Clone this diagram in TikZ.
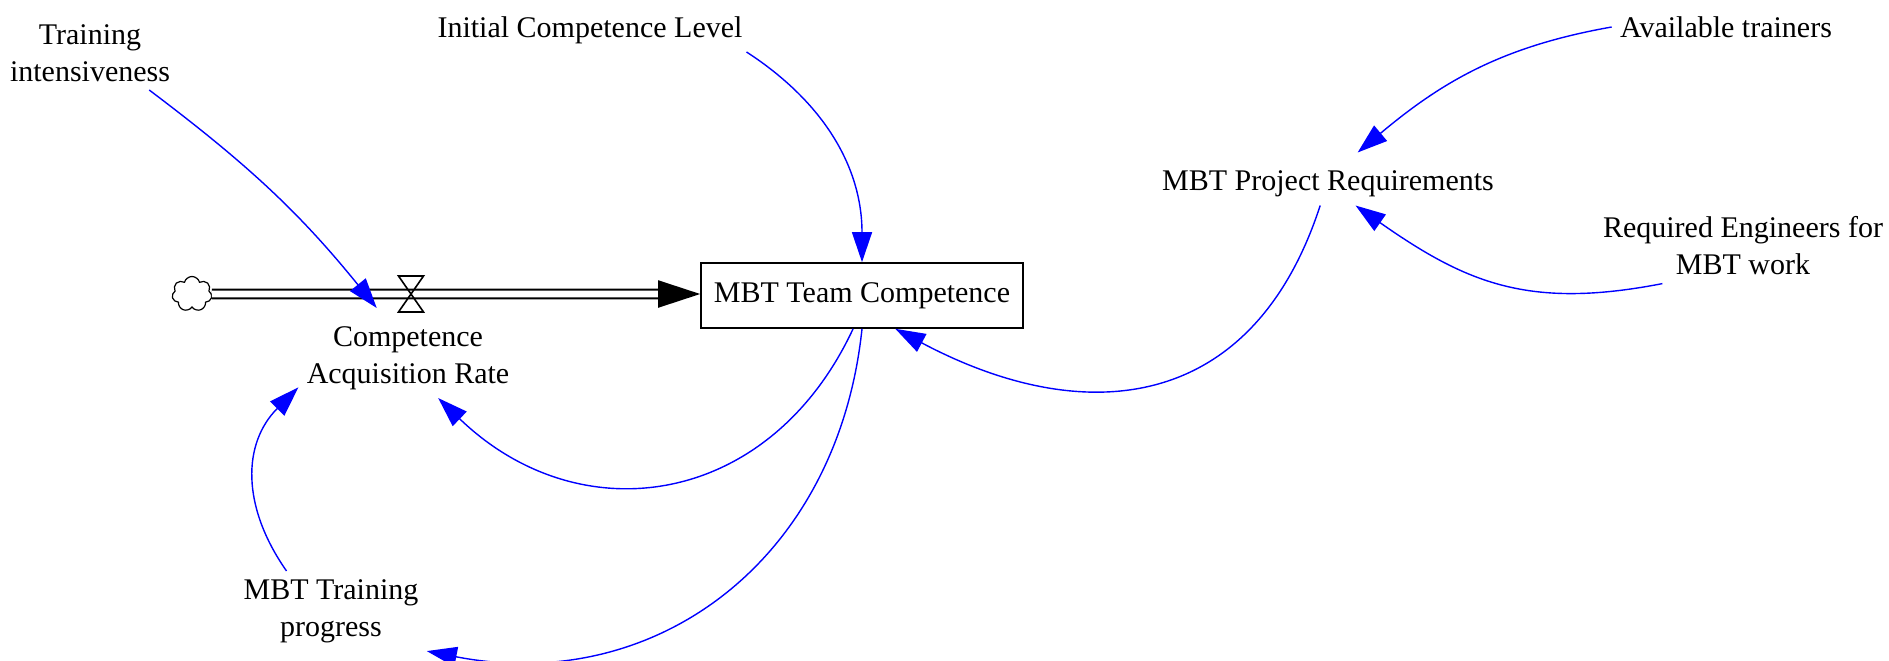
\documentclass[tikz,border=0pt]{standalone}
\usepackage{fontspec}
\setmainfont{Liberation Serif}
\usetikzlibrary{positioning,arrows.meta,shapes.symbols}

\tikzset{
  var/.style={align=center, inner sep=4pt, font=\fontsize{15}{18.5}\selectfont},
  stock/.style={draw, line width=0.8pt, minimum width=161pt, minimum height=32.5pt, font=\fontsize{15}{18.5}\selectfont},
  link/.style={blue, line width=0.7pt, -{Triangle[length=15pt,width=10pt]}},
  pipe/.style={double, double distance=3.3pt, line width=1pt, -{Triangle[length=21pt,width=13.5pt]}},
}

\begin{document}
\begin{tikzpicture}[x=0.5pt,y=0.5pt]
    \useasboundingbox (0,0) rectangle (1889,-660);

    % stock and flow
    \node[stock] (box) at (862,-295.5) {MBT Team Competence};
    \node[cloud, draw, cloud puffs=7, minimum width=20pt, minimum height=17.5pt, inner sep=0pt, line width=0.6pt] (src) at (192,-294) {};
    \draw[pipe] (src) -- (src -| box.west);
    \coordinate (valve) at (411,-294);
    \draw[line width=0.8pt] ([shift={(-12.5,18)}]valve) -- ++(25,0) -- ++(-25,-36) -- ++(25,0) -- cycle;

    % variables
    \node[var] (rate) at (408,-358) {Competence\\Acquisition Rate};
    \node[var] (tint) at (90,-53) {Training\\intensiveness};
    \node[var] (ini) at (590,-30) {Initial Competence Level};
    \node[var] (avail) at (1726,-27) {Available trainers};
    \node[var] (proj) at (1328,-184) {MBT Project Requirements};
    \node[var] (req) at (1743,-246) {Required Engineers for\\MBT work};
    \node[var] (prog) at (331,-611) {MBT Training\\progress};

    % causal links
    \draw[link] (tint.-32) to[out=-37,in=129] ([yshift=5pt]rate.128);
    \draw[link] (ini.-8) to[out=-33,in=90] (box.north);
    \draw[link] (avail.west) to[out=190,in=40] ([yshift=5pt]proj.36);
    \draw[link] (req.205) to[out=191,in=-35,looseness=1.1] (proj.-38);
    \draw[link] (proj.-110) to[out=-108,in=-28,looseness=1.25] (box.-45);
    \draw[link] (box.-105) to[out=-115,in=-44,looseness=1.2] (rate.-53);
    \draw[link] (box.south) to[out=-96,in=-11,looseness=1.1] (prog.south east);
    \draw[link] (prog.138) to[out=125,in=225,looseness=1.1] (rate.195);
\end{tikzpicture}
\end{document}
